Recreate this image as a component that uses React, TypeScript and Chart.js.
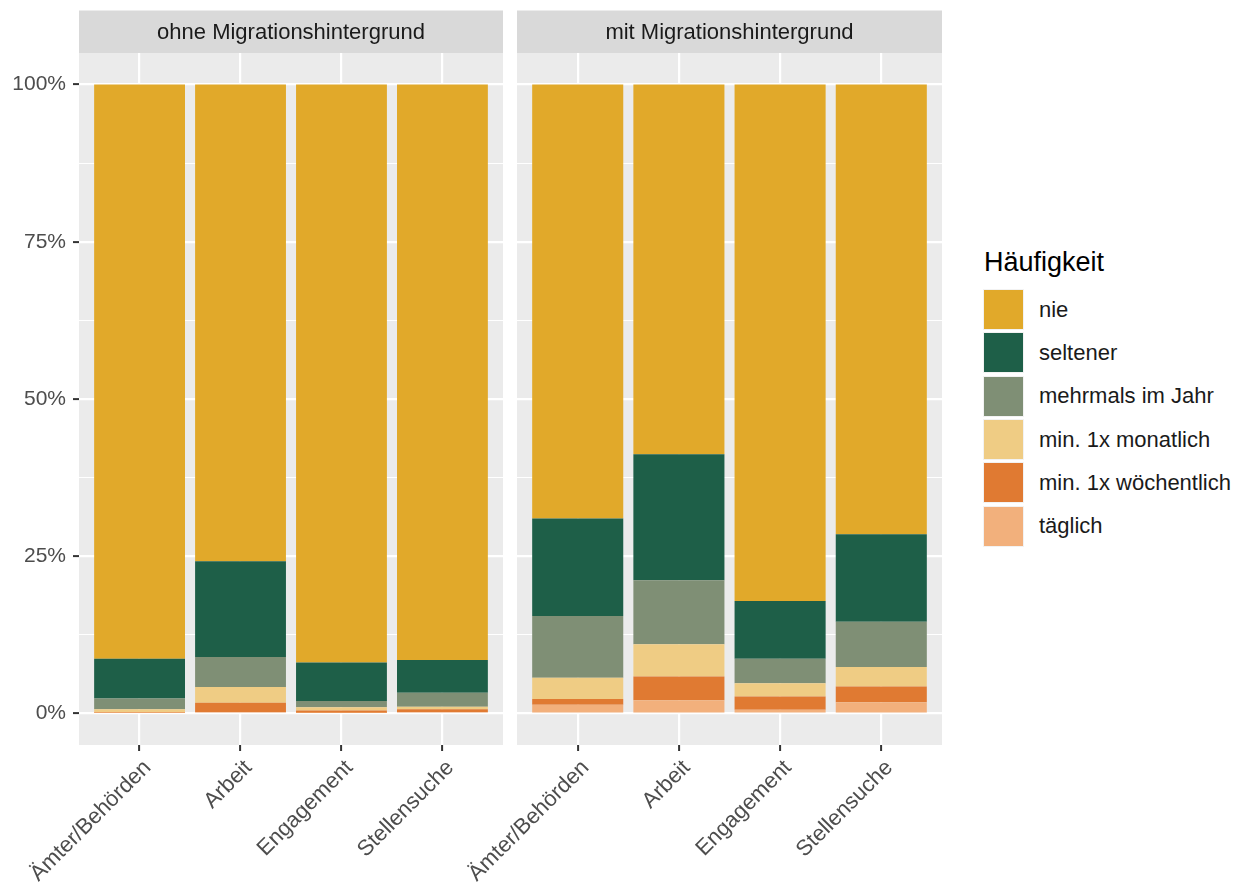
import React, { useEffect, useRef } from "react";
import { Chart, registerables } from "chart.js";
Chart.register(...registerables);

const categories = ["Ämter/Behörden", "Arbeit", "Engagement", "Stellensuche"];
const panels = ["ohne Migrationshintergrund", "mit Migrationshintergrund"];
// stacking order: bottom first
const levels = ["täglich", "min. 1x wöchentlich", "min. 1x monatlich", "mehrmals im Jahr", "seltener", "nie"];
const levelColors = ["#F2B07C", "#E07A32", "#EFCC84", "#7F8F75", "#1E5F48", "#E1A92A"];
const yMajorTicks = [0, 25, 50, 75, 100];
const yMinorTicks = [12.5, 37.5, 62.5, 87.5];

// ohne Migrationshintergrund (percent)
const ohneTaeglich = [0.1, 0.2, 0.1, 0.2];
const ohneWoechentlich = [0.1, 1.5, 0.4, 0.5];
const ohneMonatlich = [0.5, 2.5, 0.5, 0.4];
const ohneMehrmals = [1.7, 4.8, 1.0, 2.2];
const ohneSeltener = [6.3, 15.2, 6.1, 5.2];
const ohneNie = [91.3, 75.8, 91.9, 91.5];

// mit Migrationshintergrund (percent)
const mitTaeglich = [1.4, 2.1, 0.6, 1.8];
const mitWoechentlich = [0.9, 3.8, 2.1, 2.5];
const mitMonatlich = [3.4, 5.1, 2.1, 3.1];
const mitMehrmals = [9.8, 10.2, 3.9, 7.2];
const mitSeltener = [15.5, 20.0, 9.2, 13.9];
const mitNie = [69.0, 58.8, 82.1, 71.5];

const ohneSeries = [ohneTaeglich, ohneWoechentlich, ohneMonatlich, ohneMehrmals, ohneSeltener, ohneNie];
const mitSeries = [mitTaeglich, mitWoechentlich, mitMonatlich, mitMehrmals, mitSeltener, mitNie];

const FONT = "'Liberation Sans', Arial, Helvetica, sans-serif";

const panelPlugin = {
  id: "panelBg",
  beforeDraw(chart: any, _args: any, opts: any) {
    const { ctx, chartArea } = chart;
    ctx.save();
    ctx.fillStyle = "#EBEBEB";
    ctx.fillRect(chartArea.left, chartArea.top, chartArea.right - chartArea.left, chartArea.bottom - chartArea.top);
    // strip
    ctx.fillStyle = "#D9D9D9";
    ctx.fillRect(chartArea.left, 10.5, chartArea.right - chartArea.left, chartArea.top - 10.5);
    ctx.fillStyle = "#1A1A1A";
    ctx.font = `22px ${FONT}`;
    ctx.textAlign = "center";
    ctx.textBaseline = "middle";
    ctx.fillText(opts.title || "", (chartArea.left + chartArea.right) / 2, 10.5 + (chartArea.top - 10.5) / 2 + 1);
    ctx.restore();
  },
};

function Panel({ title, series, showY, left, width, padLeft, padRight }: any) {
  const ref = useRef<HTMLCanvasElement | null>(null);
  useEffect(() => {
    if (!ref.current) return;
    const chart = new Chart(ref.current, {
      type: "bar",
      data: {
        datasets: levels.map((lv, k) => ({
          label: lv,
          data: series[k].map((v: number, i: number) => ({ x: i, y: v })),
          backgroundColor: levelColors[k],
          borderWidth: 0,
          barPercentage: 0.9,
          categoryPercentage: 1,
        })),
      },
      options: {
        responsive: false,
        animation: false,
        events: [],
        layout: { padding: { top: 53, left: padLeft, right: padRight, bottom: 0 } },
        plugins: {
          legend: { display: false },
          tooltip: { enabled: false },
          panelBg: { title },
        } as any,
        scales: {
          x: {
            type: "linear",
            stacked: true,
            offset: false,
            min: -0.6,
            max: 3.6,
            afterBuildTicks: (s: any) => {
              s.ticks = categories.map((_, i) => ({ value: i }));
            },
            afterFit: (s: any) => {
              s.height = 138;
              s.paddingLeft = 0;
              s.paddingRight = 0;
            },
            border: { display: false },
            grid: {
              color: "#FFFFFF",
              lineWidth: 2.2,
              offset: false,
              drawTicks: true,
              tickLength: 6,
              tickColor: "#333333",
              tickWidth: 2,
            },
            ticks: {
              autoSkip: false,
              minRotation: 45,
              maxRotation: 45,
              padding: 4,
              labelOffset: 8,
              color: "#4D4D4D",
              font: { family: FONT, size: 22 },
              callback: (v: any) => categories[v as number] ?? "",
            },
          },
          y: {
            type: "linear",
            stacked: true,
            min: -5,
            max: 105,
            afterBuildTicks: (s: any) => {
              s.ticks = [...yMajorTicks, ...yMinorTicks].sort((a, b) => a - b).map((v) => ({ value: v }));
            },
            afterFit: (s: any) => {
              s.width = showY ? 79 - padLeft : 0;
            },
            border: { display: false },
            grid: {
              color: "#FFFFFF",
              lineWidth: (c: any) => (c.tick && c.tick.value % 25 === 0 ? 2.2 : 1.1),
              drawTicks: showY,
              tickLength: 6,
              tickWidth: 2,
              tickColor: (c: any) => (c.tick && c.tick.value % 25 === 0 ? "#333333" : "rgba(0,0,0,0)"),
            },
            ticks: {
              display: showY,
              autoSkip: false,
              padding: 7,
              color: "#4D4D4D",
              font: { family: FONT, size: 21 },
              callback: (v: any) => ((v as number) % 25 === 0 ? `${v}%` : ""),
            },
          },
        },
      } as any,
      plugins: [panelPlugin],
    });
    return () => chart.destroy();
  }, []);
  return (
    <canvas
      ref={ref}
      width={width}
      height={883}
      style={{ position: "absolute", left, top: 0, width, height: 883 }}
    />
  );
}

const legendOrder = [5, 4, 3, 2, 1, 0];

export default function App() {
  return (
    <div
      style={{
        position: "absolute",
        left: 0,
        top: 0,
        width: 1234,
        height: 883,
        background: "#FFFFFF",
        fontFamily: FONT,
        overflow: "hidden",
      }}
    >
      <Panel title={panels[0]} series={ohneSeries} showY={true} left={0} width={510} padLeft={0} padRight={7} />
      <Panel title={panels[1]} series={mitSeries} showY={false} left={400} width={550} padLeft={117} padRight={8} />
      <div
        style={{
          position: "absolute",
          left: 984,
          top: 249,
          fontSize: 27,
          lineHeight: "27px",
          color: "#000000",
          whiteSpace: "nowrap",
        }}
      >
        Häufigkeit
      </div>
      <div style={{ position: "absolute", left: 983, top: 288 }}>
        {legendOrder.map((k) => (
          <div key={k} style={{ display: "flex", alignItems: "center", height: 43.3 }}>
            <div
              style={{
                width: 41,
                height: 41,
                background: "#F2F2F2",
                padding: 1,
                boxSizing: "border-box",
              }}
            >
              <div style={{ width: "100%", height: "100%", background: levelColors[k] }} />
            </div>
            <div
              style={{
                marginLeft: 15,
                fontSize: 22,
                color: "#1A1A1A",
                whiteSpace: "nowrap",
              }}
            >
              {levels[k]}
            </div>
          </div>
        ))}
      </div>
    </div>
  );
}
